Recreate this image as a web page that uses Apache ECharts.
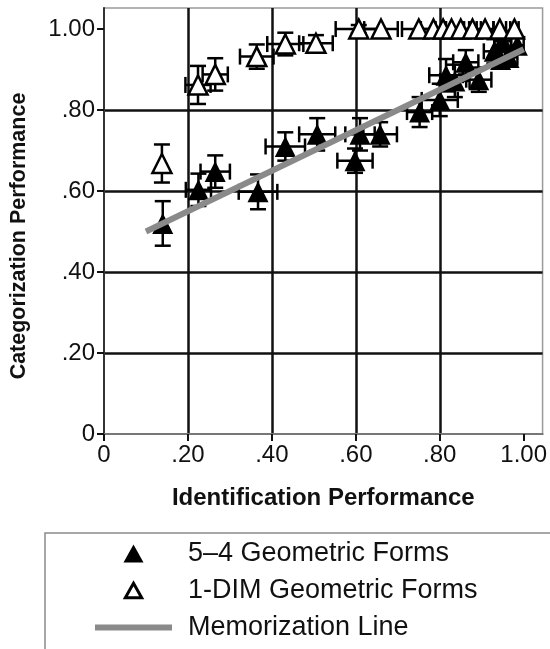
<!DOCTYPE html>
<html>
<head>
<meta charset="utf-8">
<script src="https://cdn.jsdelivr.net/npm/echarts@6/dist/echarts.min.js"></script>
<style>
html,body{margin:0;padding:0;background:#fff;}
#chart{width:550px;height:649px;}
</style>
</head>
<body>
<div id="chart"></div>
<script>
// ---- data ----
var tickValues = [0, 0.2, 0.4, 0.6, 0.8, 1.0];
var tickLabels = ['0', '.20', '.40', '.60', '.80', '1.00'];

var seriesNames = ['5\u20134 Geometric Forms', '1-DIM Geometric Forms', 'Memorization Line'];

// 5-4 Geometric Forms (filled triangles)
var geoX    = [0.14, 0.225, 0.265, 0.367, 0.432, 0.508, 0.598, 0.61, 0.658, 0.752, 0.80, 0.815, 0.836, 0.862, 0.893, 0.93, 0.95, 0.965, 0.985, 0.945];
var geoY    = [0.52, 0.603, 0.648, 0.598, 0.71, 0.74, 0.675, 0.74, 0.74, 0.795, 0.825, 0.886, 0.872, 0.918, 0.875, 0.945, 0.97, 0.93, 0.96, 0.925];
var geoXErr = [0, 0.03, 0.035, 0.046, 0.047, 0.043, 0.042, 0.035, 0.04, 0.03, 0.043, 0.04, 0.035, 0.03, 0.03, 0.025, 0.02, 0.02, 0.015, 0.02];
var geoYErr = [0.055, 0.04, 0.04, 0.043, 0.035, 0.04, 0.03, 0.04, 0.03, 0.037, 0.04, 0.04, 0.04, 0.03, 0.03, 0.03, 0.025, 0.02, 0.02, 0.02];

// 1-DIM Geometric Forms (open triangles)
var dimX    = [0.138, 0.224, 0.265, 0.364, 0.432, 0.505, 0.607, 0.66, 0.75, 0.785, 0.808, 0.828, 0.85, 0.878, 0.908, 0.943, 0.978];
var dimY    = [0.668, 0.862, 0.888, 0.932, 0.963, 0.965, 1.0, 1.0, 1.0, 1.0, 1.0, 1.0, 1.0, 1.0, 1.0, 1.0, 1.0];
var dimXErr = [0, 0.03, 0.03, 0.04, 0.043, 0.04, 0.055, 0.04, 0.04, 0.03, 0.02, 0.02, 0.02, 0.02, 0.02, 0.015, 0.01];
var dimYErr = [0.047, 0.047, 0.04, 0.03, 0.028, 0.02, 0.01, 0, 0, 0, 0, 0, 0, 0, 0, 0, 0];

// Memorization line end points
var memoX = [0.10, 1.00];
var memoY = [0.50, 0.95];

// ---- build ----
function zip(a, b) { return a.map(function (v, i) { return [v, b[i]]; }); }
function zip4(a, b, c, d) { return a.map(function (v, i) { return [v, b[i], c[i], d[i]]; }); }

var FONT = '"Liberation Sans", Arial, Helvetica, sans-serif';

function renderErr(params, api) {
  var x = api.value(0), y = api.value(1), ex = api.value(2), ey = api.value(3);
  var c = api.coord([x, y]);
  var style = { stroke: '#000', lineWidth: 2.5, fill: null };
  var cap = 8;
  var ch = [];
  if (ey > 0) {
    var t = api.coord([x, y + ey]), b = api.coord([x, y - ey]);
    ch.push({ type: 'line', shape: { x1: c[0], y1: t[1], x2: c[0], y2: b[1] }, style: style });
    ch.push({ type: 'line', shape: { x1: c[0] - cap, y1: t[1], x2: c[0] + cap, y2: t[1] }, style: style });
    ch.push({ type: 'line', shape: { x1: c[0] - cap, y1: b[1], x2: c[0] + cap, y2: b[1] }, style: style });
  }
  if (ex > 0) {
    var l = api.coord([x - ex, y]), r = api.coord([x + ex, y]);
    ch.push({ type: 'line', shape: { x1: l[0], y1: c[1], x2: r[0], y2: c[1] }, style: style });
    ch.push({ type: 'line', shape: { x1: l[0], y1: c[1] - cap, x2: l[0], y2: c[1] + cap }, style: style });
    ch.push({ type: 'line', shape: { x1: r[0], y1: c[1] - cap, x2: r[0], y2: c[1] + cap }, style: style });
  }
  return { type: 'group', children: ch };
}

function fmt(v) {
  for (var i = 0; i < tickValues.length; i++) {
    if (Math.abs(v - tickValues[i]) < 1e-6) return tickLabels[i];
  }
  return '';
}

var axisCommon = {
  type: 'value',
  min: 0,
  interval: 0.2,
  axisTick: { show: true, inside: false, length: 7, lineStyle: { color: '#111', width: 2 }, customValues: tickValues },
  axisLabel: { fontFamily: FONT, fontSize: 24, color: '#111', margin: 9, formatter: fmt, customValues: tickValues },
  splitLine: { show: true, showMinLine: false, showMaxLine: false, lineStyle: { color: '#111', width: 2.5 } },
  nameLocation: 'middle',
  nameTextStyle: { fontFamily: FONT, fontWeight: 'bold', color: '#111' }
};

var chart = echarts.init(document.getElementById('chart'), null, { renderer: 'canvas' });
chart.setOption({
  animation: false,
  backgroundColor: '#fff',
  grid: { left: 103, right: 2, top: 8, bottom: 215, show: true, borderColor: '#9a9a9a', borderWidth: 1.5, backgroundColor: 'transparent' },
  xAxis: Object.assign({}, axisCommon, {
    max: 1.045,
    name: 'Identification Performance',
    nameGap: 52,
    nameTextStyle: Object.assign({}, axisCommon.nameTextStyle, { fontSize: 24 }),
    axisLine: { show: true, lineStyle: { color: '#777', width: 2 } }
  }),
  yAxis: Object.assign({}, axisCommon, {
    max: 1.052,
    name: 'Categorization Performance',
    nameGap: 74,
    nameRotate: 90,
    nameTextStyle: Object.assign({}, axisCommon.nameTextStyle, { fontSize: 21.5, padding: [0, 30, 0, 0] }),
    axisLine: { show: true, lineStyle: { color: '#333', width: 2 } }
  }),
  legend: {
    orient: 'vertical',
    left: 45,
    top: 533,
    height: 160,
    width: 1000,
    padding: [7, 400, 20, 50],
    itemWidth: 77,
    itemHeight: 20,
    itemGap: 10,
    borderColor: '#8a8a8a',
    borderWidth: 1.5,
    backgroundColor: '#fff',
    textStyle: { fontFamily: FONT, fontSize: 27, color: '#111', lineHeight: 27, padding: [0, 0, 0, 11] },
    data: [
      { name: seriesNames[0], icon: 'path://M0,0M22,22M11,1L22,21L0,21Z' },
      { name: seriesNames[1], icon: 'path://M0,0M22,22M11,3L20,19L2,19Z', itemStyle: { borderWidth: 3, borderColor: '#000', color: '#fff' } },
      { name: seriesNames[2], icon: 'path://M0,0H77V6H0Z', itemStyle: { color: '#8a8a8a', borderWidth: 0 } }
    ]
  },
  series: [
    { type: 'custom', renderItem: renderErr, data: zip4(geoX, geoY, geoXErr, geoYErr), z: 2, silent: true, encode: { x: 0, y: 1 } },
    { type: 'custom', renderItem: renderErr, data: zip4(dimX, dimY, dimXErr, dimYErr), z: 2, silent: true, encode: { x: 0, y: 1 } },
    {
      name: seriesNames[0], type: 'scatter', symbol: 'triangle', symbolSize: 21, z: 3,
      itemStyle: { color: '#000', opacity: 1 },
      data: zip(geoX, geoY)
    },
    {
      name: seriesNames[1], type: 'scatter', symbol: 'triangle', symbolSize: 19, z: 3,
      itemStyle: { color: '#fff', borderColor: '#000', borderWidth: 2.5, opacity: 1 },
      data: zip(dimX, dimY)
    },
    {
      name: seriesNames[2], type: 'line', symbol: 'none', z: 4,
      color: '#8a8a8a',
      lineStyle: { color: '#8a8a8a', width: 6 },
      data: zip(memoX, memoY)
    }
  ]
});
</script>
</body>
</html>
